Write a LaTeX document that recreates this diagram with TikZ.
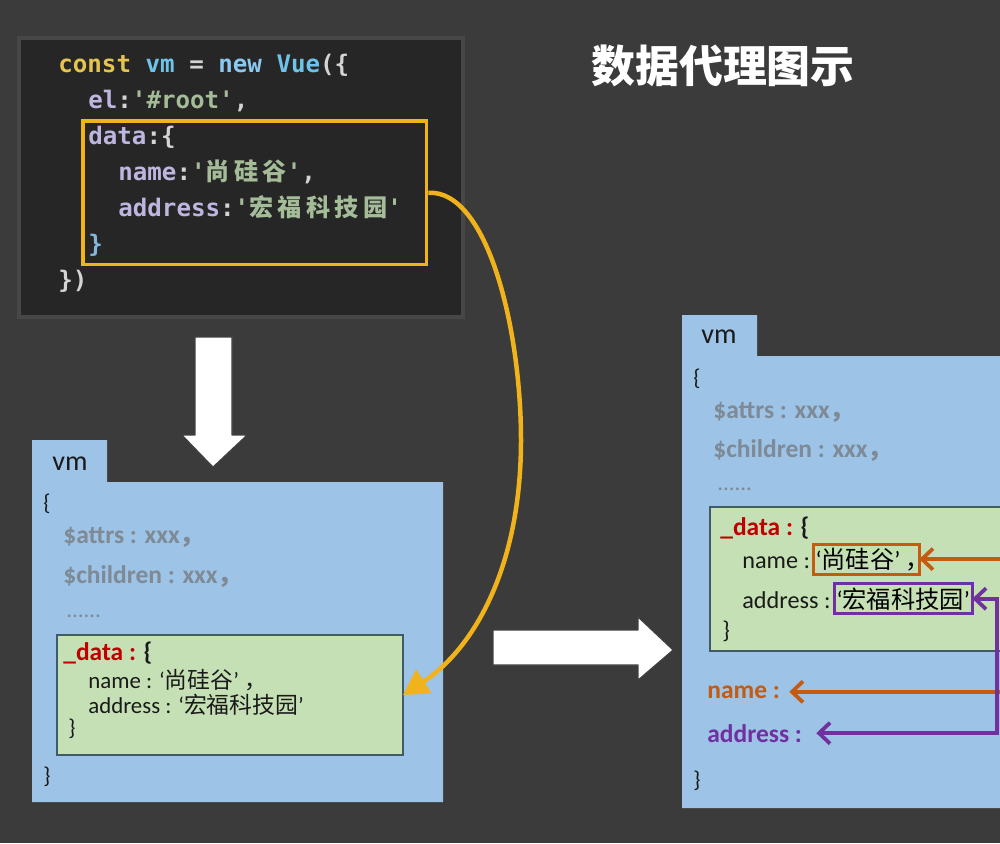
\documentclass[tikz,border=0pt]{standalone}
\usepackage{fontspec}
\setmainfont{Carlito}
\setmonofont{DejaVu Sans Mono}
\newfontfamily\cjk{Noto Sans CJK SC}
\newfontfamily\cjkcode[LetterSpace=18]{Noto Sans CJK SC}
\usetikzlibrary{arrows.meta, positioning}
\definecolor{bgGray}{HTML}{3B3B3B}
\definecolor{codeBg}{HTML}{262626}
\definecolor{codeEdge}{HTML}{474747}
\definecolor{codeYellow}{HTML}{E5C550}
\definecolor{codeBlue}{HTML}{6EC3E8}
\definecolor{codeNew}{HTML}{8CC8F0}
\definecolor{codeLight}{HTML}{D4D4D4}
\definecolor{codeLav}{HTML}{BFB6E0}
\definecolor{codeStr}{HTML}{A4BC98}
\definecolor{codeBrace}{HTML}{82B8DC}
\definecolor{linkYellow}{HTML}{F0B31C}
\definecolor{vmBlue}{HTML}{9DC3E6}
\definecolor{dataGreen}{HTML}{C5E0B4}
\definecolor{dataEdge}{HTML}{3F5A68}
\definecolor{attrGray}{HTML}{7E8A95}
\definecolor{dataRed}{HTML}{C00000}
\definecolor{nameOrange}{HTML}{C55A11}
\definecolor{addrPurple}{HTML}{7030A0}
\definecolor{inkBlack}{HTML}{1A1A1A}
\newcommand{\codefont}{\ttfamily\bfseries\fontsize{13.75}{16}\selectfont}
\newcommand{\fwcomma}{\makebox[0.45em][l]{\cjk ，}}

\begin{document}
\begin{tikzpicture}[x=0.02cm, y=-0.02cm,
    codeTxt/.style={anchor=base west, inner sep=0pt, font=\codefont, text=codeLight},
    boxTxt/.style={anchor=base west, inner sep=0pt, text=inkBlack,
      font=\fontsize{13}{15}\selectfont},
    bigTxt/.style={boxTxt, font=\fontsize{13.8}{16}\selectfont},
    attrTxt/.style={boxTxt, text=attrGray, font=\fontsize{14.5}{17}\selectfont\bfseries},
    keyTxt/.style={boxTxt, font=\fontsize{14.5}{17}\selectfont\bfseries},
    dataBox/.style={draw=dataEdge, fill=dataGreen, line width=0.8pt,
      anchor=north west, inner sep=0pt, outer sep=0pt},
    markBox/.style={anchor=base west, line width=0.06cm, inner xsep=0.05cm,
      inner ysep=0.07cm, outer sep=0pt, font=\fontsize{13.8}{16}\selectfont},
    barb/.tip={Straight Barb[length=0.22cm, width=0.42cm]},
    pointer/.style={line width=0.075cm, line join=miter},
    bigArrow/.style={fill=white, draw=black!75, line width=0.6pt, line join=round}]

  % background and page size
  \fill[bgGray] (0,0) rectangle (1000,843);
  \useasboundingbox (0,0) rectangle (1000,843);

  % title
  \node[text=white, font=\cjk\bfseries\fontsize{25}{30}\selectfont] (title) at (723,66)
    {数据代理图示};

  % code panel
  \draw[codeEdge, line width=0.08cm, fill=codeBg] (19,38) rectangle (463,317);
  \node[codeTxt] (l1) at (58,72) {\textcolor{codeYellow}{const} \textcolor{codeBlue}{vm} =
    \textcolor{codeNew}{new} \textcolor{codeBlue}{Vue}(\{};
  \node[codeTxt] (l2) at (88,108) {\textcolor{codeLav}{el}:\textcolor{codeStr}{'\#root'},};
  \node[codeTxt] (l3) at (88,144) {\textcolor{codeLav}{data}:\{};
  \node[codeTxt] (l4) at (118,180)
    {\textcolor{codeLav}{name}:\textcolor{codeStr}{'{\cjkcode 尚硅谷}'},};
  \node[codeTxt] (l5) at (118,216)
    {\textcolor{codeLav}{address}:\textcolor{codeStr}{'{\cjkcode 宏福科技园}'}};
  \node[codeTxt, text=codeBrace] (l6) at (88,252) {\}};
  \node[codeTxt] (l7) at (58,288) {\})};
  \node[draw=linkYellow, line width=0.07cm, anchor=north west, inner sep=0pt,
    minimum width=6.88cm, minimum height=2.88cm] (codeData) at (81,119) {};

  % down arrow
  \draw[bigArrow] (195,337) -- (232,337) -- (232,435) -- (247,435) -- (213,467)
    -- (182,435) -- (195,435) -- cycle;

  % left vm object
  \fill[vmBlue] (32,440) -- (107,440) -- (107,482) -- (443,482) -- (443,802)
    -- (32,802) -- cycle;
  \node[boxTxt, font=\fontsize{16}{18}\selectfont] (vmL) at (52,470) {vm};
  \node[boxTxt] (openL) at (43,510) {\{};
  \node[attrTxt] (attrsL) at (63,543) {\$attrs : xxx\fwcomma};
  \node[attrTxt] (childL) at (63,583) {\$children : xxx\fwcomma};
  \node[attrTxt, font=\fontsize{13}{15}\selectfont] (dotsL) at (66,617) {......};
  \node[dataBox, minimum width=6.92cm, minimum height=2.4cm] (leftData) at (57,635) {};
  \node[keyTxt] (dataL) at (63,660) {\textcolor{dataRed}{\_data :} \{};
  \node[boxTxt] (nameL) at (88,688) {name : ‘{\cjk 尚硅谷}’ \fwcomma};
  \node[boxTxt] (addrL) at (88,713) {address : ‘{\cjk 宏福科技园}’};
  \node[boxTxt] (shutDataL) at (68,735) {\}};
  \node[boxTxt] (shutL) at (43,783) {\}};

  % data is copied into vm._data
  \coordinate (bend) at (521,440);
  \draw[linkYellow, line width=0.09cm, -{Triangle[length=0.5cm, width=0.55cm]}]
    (codeData.east) .. controls (488,190) and (521,330) .. (bend)
    .. controls (521,570) and (472,650) .. (leftData.east);

  % right arrow
  \draw[bigArrow] (493,630) -- (638,630) -- (638,617) -- (673,650) -- (638,680)
    -- (638,665) -- (493,665) -- cycle;

  % right vm object
  \fill[vmBlue] (682,315) -- (757,315) -- (757,356) -- (1000,356) -- (1000,808)
    -- (682,808) -- cycle;
  \node[boxTxt, font=\fontsize{16}{18}\selectfont] (vmR) at (701,343) {vm};
  \node[boxTxt] (openR) at (693,385) {\{};
  \node[attrTxt] (attrsR) at (713,418) {\$attrs : xxx\fwcomma};
  \node[attrTxt] (childR) at (713,457) {\$children : xxx\fwcomma};
  \node[attrTxt, font=\fontsize{13}{15}\selectfont] (dotsR) at (717,490) {......};
  \node[dataBox, minimum width=5.88cm, minimum height=2.88cm] (rightData) at (710,507) {};
  \node[keyTxt] (dataR) at (720,535) {\textcolor{dataRed}{\_data :} \{};
  \node[bigTxt] (nameR) at (742,568) {name :};
  \node[markBox, draw=nameOrange] (nameBox) at (813,568) {‘{\cjk 尚硅谷}’ \fwcomma};
  \node[bigTxt] (addrR) at (742,608) {address :};
  \node[markBox, draw=addrPurple] (addrBox) at (834,608) {‘{\cjk 宏福科技园}’};
  \node[bigTxt] (shutDataR) at (722,638) {\}};
  \node[keyTxt, text=nameOrange] (nameKey) at (707,698) {name :};
  \node[keyTxt, text=addrPurple] (addrKey) at (707,742) {address :};
  \node[boxTxt] (shutR) at (693,787) {\}};

  % getters and setters on vm
  \coordinate (edgeR) at (1003,0);
  \coordinate (railR) at (997,0);
  \draw[pointer, nameOrange, -barb] (nameBox.east -| edgeR) -- (nameBox.east);
  \draw[pointer, nameOrange, -barb, shorten >=0.18cm] (nameKey.east -| edgeR)
    -- (nameKey.east);
  \draw[pointer, addrPurple, barb-barb, shorten >=0.28cm] (addrBox.east)
    -- (addrBox.east -| railR) |- (addrKey.east);
\end{tikzpicture}
\end{document}
